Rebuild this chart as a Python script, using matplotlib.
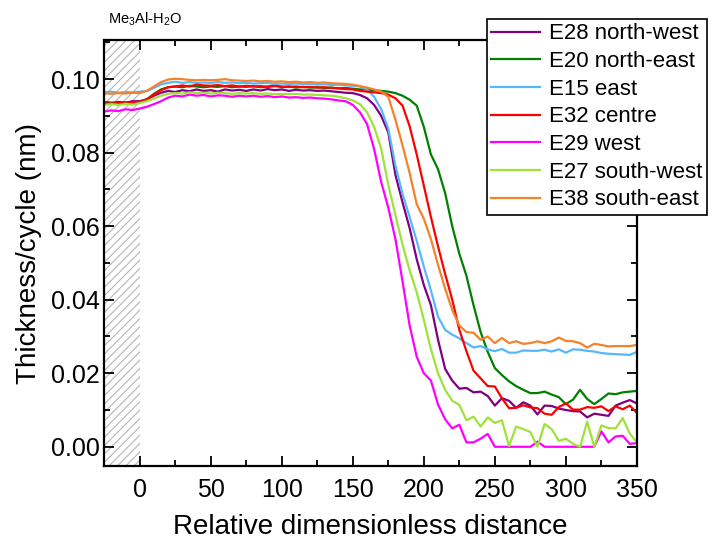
import matplotlib
matplotlib.use("Agg")
import matplotlib.pyplot as plt
from matplotlib.ticker import MultipleLocator

plt.rcParams['font.family'] = ['Liberation Sans', 'DejaVu Sans']
plt.rcParams['mathtext.default'] = 'regular'
plt.rcParams['hatch.linewidth'] = 0.8

# relative dimensionless distance, sampled every 5 units
distance = list(range(-25, 351, 5))

e28_nw = [0.0937, 0.0935, 0.0938, 0.0936, 0.0940,
          0.0940, 0.0945, 0.0955, 0.0963, 0.0968,
          0.0965, 0.0970, 0.0967, 0.0972, 0.0968,
          0.0970, 0.0966, 0.0972, 0.0969, 0.0971,
          0.0968, 0.0972, 0.0969, 0.0973, 0.0970,
          0.0972, 0.0968, 0.0971, 0.0969, 0.0970,
          0.0968, 0.0969, 0.0967, 0.0965, 0.0963,
          0.0962, 0.0957, 0.0948, 0.0930, 0.0900,
          0.0855, 0.0740, 0.0665, 0.0595, 0.0510,
          0.0440, 0.0385, 0.0291, 0.0212, 0.0180,
          0.0158, 0.0160, 0.0148, 0.0150, 0.0138,
          0.0112, 0.0132, 0.0125, 0.0106, 0.0121,
          0.0112, 0.0088, 0.0112, 0.0111, 0.0104,
          0.0100, 0.0097, 0.0096, 0.0080, 0.0090,
          0.0087, 0.0084, 0.0112, 0.0120, 0.0127,
          0.0118]

e20_ne = [0.0938, 0.0936, 0.0935, 0.0937, 0.0936,
          0.0938, 0.0945, 0.0960, 0.0972, 0.0978,
          0.0980, 0.0978, 0.0982, 0.0980, 0.0978,
          0.0980, 0.0979, 0.0981, 0.0978, 0.0980,
          0.0979, 0.0981, 0.0978, 0.0980, 0.0983,
          0.0978, 0.0980, 0.0977, 0.0979, 0.0977,
          0.0978, 0.0976, 0.0977, 0.0975, 0.0976,
          0.0974, 0.0972, 0.0972, 0.0970, 0.0968,
          0.0966, 0.0962, 0.0955, 0.0944, 0.0928,
          0.0870, 0.0795, 0.0755, 0.0690, 0.0600,
          0.0525, 0.0465, 0.0385, 0.0312, 0.0258,
          0.0214, 0.0195, 0.0178, 0.0165, 0.0155,
          0.0146, 0.0146, 0.0150, 0.0142, 0.0135,
          0.0116, 0.0128, 0.0155, 0.0130, 0.0116,
          0.0130, 0.0145, 0.0143, 0.0148, 0.0150,
          0.0152]

e15_e = [0.0965, 0.0966, 0.0963, 0.0965, 0.0964,
         0.0966, 0.0968, 0.0976, 0.0986, 0.0990,
         0.0993, 0.0990, 0.0992, 0.0990, 0.0991,
         0.0990, 0.0992, 0.0990, 0.0991, 0.0989,
         0.0990, 0.0988, 0.0989, 0.0990, 0.0987,
         0.0988, 0.0987, 0.0988, 0.0986, 0.0987,
         0.0985, 0.0986, 0.0984, 0.0985, 0.0983,
         0.0982, 0.0980, 0.0972, 0.0952, 0.0918,
         0.0865, 0.0765, 0.0688, 0.0625, 0.0560,
         0.0490, 0.0425, 0.0354, 0.0318, 0.0305,
         0.0295, 0.0282, 0.0270, 0.0274, 0.0265,
         0.0260, 0.0266, 0.0256, 0.0256, 0.0262,
         0.0261, 0.0261, 0.0264, 0.0259, 0.0265,
         0.0256, 0.0265, 0.0264, 0.0261, 0.0259,
         0.0255, 0.0253, 0.0252, 0.0251, 0.0250,
         0.0258]

e32_c = [0.0935, 0.0933, 0.0936, 0.0934, 0.0937,
         0.0938, 0.0945, 0.0958, 0.0970, 0.0978,
         0.0980, 0.0983, 0.0980, 0.0985, 0.0983,
         0.0982, 0.0984, 0.0981, 0.0983, 0.0980,
         0.0982, 0.0980, 0.0981, 0.0979, 0.0981,
         0.0980, 0.0979, 0.0980, 0.0978, 0.0979,
         0.0977, 0.0978, 0.0976, 0.0975, 0.0973,
         0.0972, 0.0968, 0.0966, 0.0964, 0.0962,
         0.0958, 0.0948, 0.0928, 0.0872, 0.0795,
         0.0710, 0.0625, 0.0545, 0.0470, 0.0400,
         0.0318, 0.0260, 0.0207, 0.0186, 0.0165,
         0.0164, 0.0132, 0.0105, 0.0106, 0.0113,
         0.0107, 0.0105, 0.0090, 0.0087, 0.0108,
         0.0118, 0.0101, 0.0101, 0.0108, 0.0106,
         0.0110, 0.0097, 0.0110, 0.0102, 0.0112,
         0.0092]

e29_w = [0.0912, 0.0915, 0.0913, 0.0918, 0.0916,
         0.0920, 0.0925, 0.0932, 0.0940, 0.0950,
         0.0955, 0.0953, 0.0958, 0.0955, 0.0957,
         0.0953, 0.0956, 0.0955, 0.0952, 0.0955,
         0.0953, 0.0955, 0.0952, 0.0954, 0.0951,
         0.0953, 0.0950, 0.0951, 0.0949, 0.0950,
         0.0948, 0.0947, 0.0945, 0.0942, 0.0940,
         0.0930, 0.0910, 0.0878, 0.0810, 0.0720,
         0.0650, 0.0565, 0.0450, 0.0330, 0.0245,
         0.0200, 0.0180, 0.0115, 0.0075, 0.0050,
         0.0060, 0.0012, 0.0012, 0.0022, 0.0035,
         0.0000, 0.0000, 0.0000, 0.0000, 0.0000,
         0.0000, 0.0014, 0.0000, 0.0000, 0.0000,
         0.0000, 0.0000, 0.0000, 0.0000, 0.0000,
         0.0042, 0.0012, 0.0028, 0.0030, 0.0008,
         0.0010]

e27_sw = [0.0930, 0.0932, 0.0930, 0.0933, 0.0931,
          0.0935, 0.0940, 0.0947, 0.0955, 0.0960,
          0.0962, 0.0961, 0.0964, 0.0962, 0.0963,
          0.0961, 0.0963, 0.0962, 0.0960, 0.0962,
          0.0961, 0.0962, 0.0960, 0.0961, 0.0959,
          0.0960, 0.0959, 0.0960, 0.0958, 0.0958,
          0.0957, 0.0956, 0.0955, 0.0952, 0.0948,
          0.0942, 0.0932, 0.0910, 0.0870, 0.0810,
          0.0712, 0.0630, 0.0550, 0.0480, 0.0420,
          0.0345, 0.0265, 0.0200, 0.0155, 0.0125,
          0.0114, 0.0072, 0.0082, 0.0055, 0.0080,
          0.0065, 0.0072, 0.0002, 0.0055, 0.0048,
          0.0040, 0.0000, 0.0062, 0.0048, 0.0016,
          0.0022, 0.0008, 0.0000, 0.0068, 0.0000,
          0.0058, 0.0051, 0.0050, 0.0078, 0.0036,
          0.0012]

e38_se = [0.0962, 0.0960, 0.0962, 0.0961, 0.0963,
          0.0962, 0.0968, 0.0980, 0.0992, 0.0999,
          0.1001, 0.1000, 0.0998, 0.0997, 0.0998,
          0.0997, 0.0998, 0.1000, 0.0997, 0.0996,
          0.0995, 0.0996, 0.0994, 0.0995, 0.0993,
          0.0994, 0.0992, 0.0993, 0.0991, 0.0992,
          0.0990, 0.0991, 0.0989, 0.0988, 0.0987,
          0.0985, 0.0981, 0.0977, 0.0972, 0.0966,
          0.0952, 0.0890, 0.0820, 0.0745, 0.0660,
          0.0620, 0.0565, 0.0495, 0.0430, 0.0372,
          0.0330, 0.0312, 0.0310, 0.0291, 0.0300,
          0.0282, 0.0296, 0.0282, 0.0287, 0.0280,
          0.0282, 0.0287, 0.0282, 0.0287, 0.0297,
          0.0288, 0.0287, 0.0282, 0.0270, 0.0280,
          0.0277, 0.0273, 0.0274, 0.0274, 0.0274,
          0.0277]

series = [
    ("E28 north-west", e28_nw, "#800080"),
    ("E20 north-east", e20_ne, "#008000"),
    ("E15 east", e15_e, "#55b8ff"),
    ("E32 centre", e32_c, "#ff0000"),
    ("E29 west", e29_w, "#ff00ff"),
    ("E27 south-west", e27_sw, "#9fe23a"),
    ("E38 south-east", e38_se, "#f5822a"),
]

fig = plt.figure(figsize=(7.14, 5.43), dpi=100)
ax = fig.add_axes([0.146, 0.142, 0.746, 0.784])

# hatched zone left of zero
ax.axvspan(-25, 0, facecolor="none", edgecolor="#b4b4b4", hatch="////", linewidth=0, zorder=0)

for label, vals, col in series:
    ax.plot(distance, vals, color=col, lw=1.6, label=label)

ax.set_xlim(-25, 350)
ax.set_ylim(-0.0052, 0.1106)
ax.xaxis.set_major_locator(MultipleLocator(50))
ax.xaxis.set_minor_locator(MultipleLocator(25))
ax.yaxis.set_major_locator(MultipleLocator(0.02))
ax.yaxis.set_minor_locator(MultipleLocator(0.01))
ax.yaxis.set_major_formatter(matplotlib.ticker.FormatStrFormatter("%.2f"))
ax.tick_params(which="both", direction="in", top=True, right=True, width=1.3, labelsize=18)
ax.tick_params(which="major", length=7)
ax.tick_params(which="minor", length=4)
ax.tick_params(axis="x", pad=9)
for sp in ax.spines.values():
    sp.set_linewidth(1.6)

ax.set_xlabel("Relative dimensionless distance", fontsize=20, labelpad=8)
ax.set_ylabel("Thickness/cycle (nm)", fontsize=20, labelpad=6)

fig.text(0.151, 0.965, "Me$_3$Al-H$_2$O", fontsize=10.5, ha="left", va="center")

leg = fig.legend(loc="upper left", bbox_to_anchor=(0.682, 0.965), fontsize=16,
                 frameon=True, fancybox=False, framealpha=1, edgecolor="black",
                 borderpad=0.2, labelspacing=0.3, handlelength=2.2, handletextpad=0.4,
                 borderaxespad=0)
leg.get_frame().set_linewidth(1.2)

fig.savefig("out.png", dpi=100)
